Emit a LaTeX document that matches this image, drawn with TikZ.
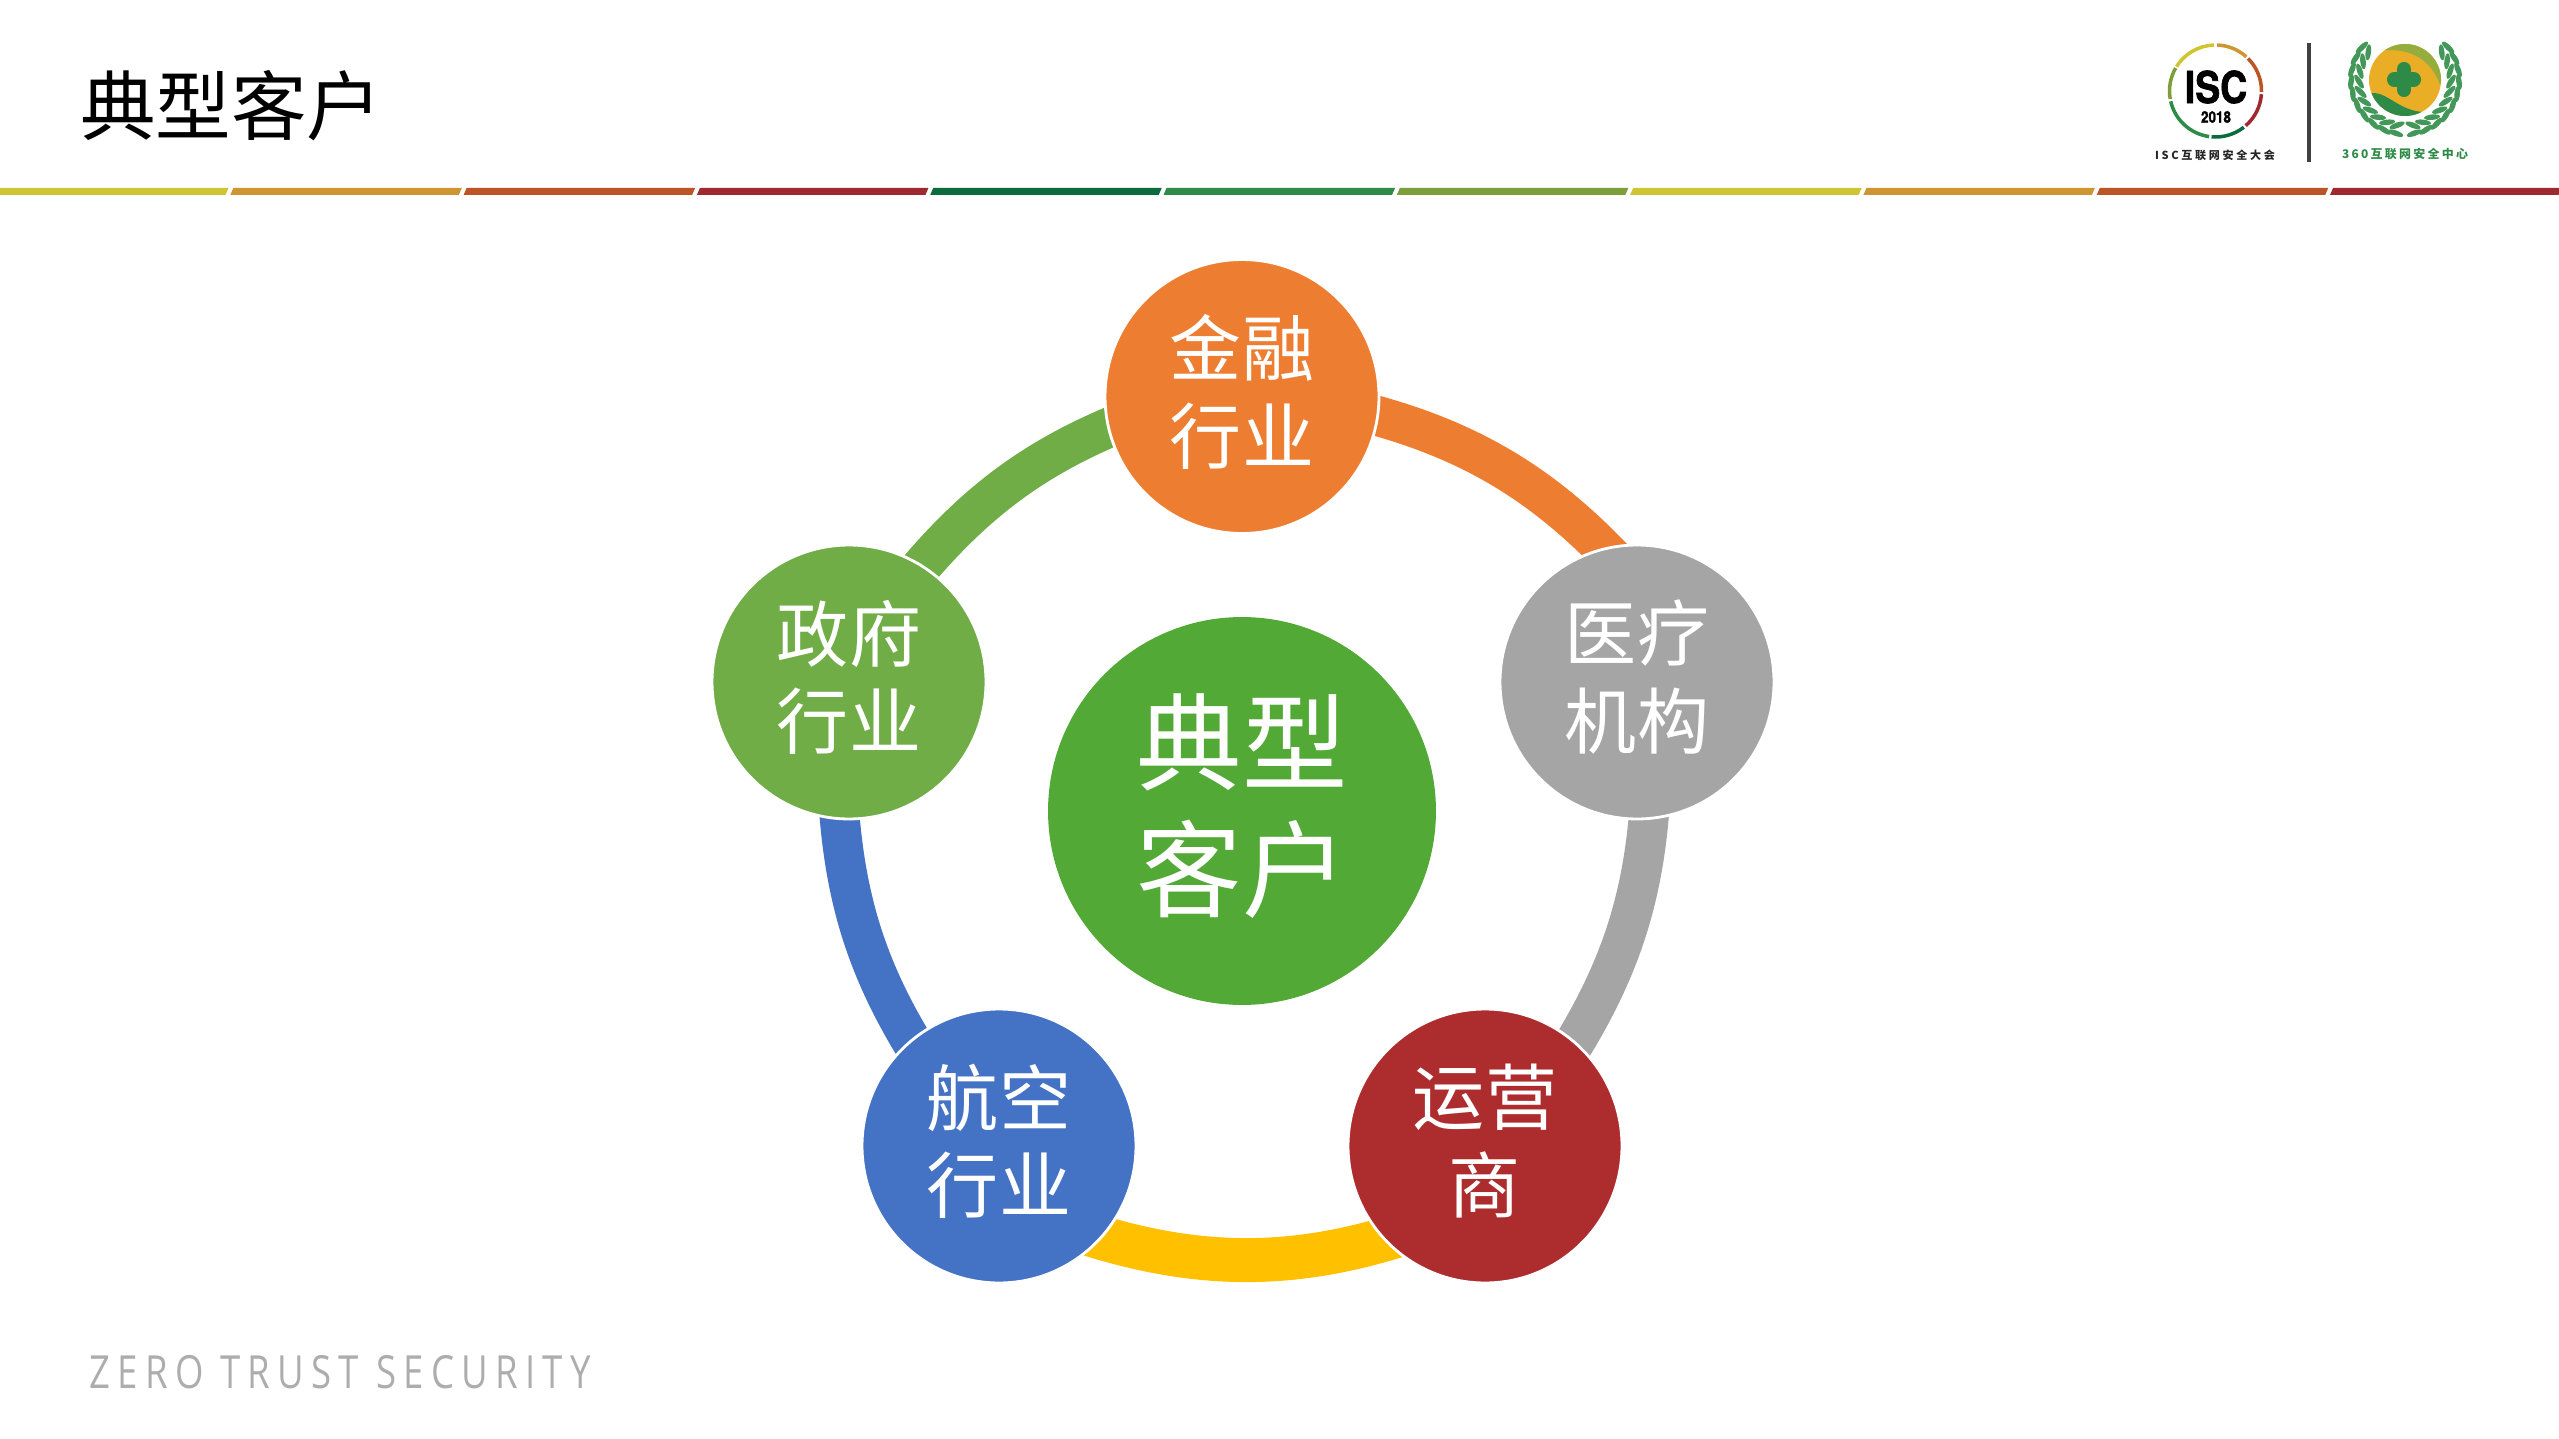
\documentclass[tikz,border=0pt]{standalone}
\usepackage{fontspec}
\setmainfont{Noto Sans CJK SC}
\newfontfamily\logofont[FakeStretch=0.85,BoldFeatures={FakeBold=1.5}]{TeX Gyre Heros}
\newfontfamily\zerofont[LetterSpace=16,FakeStretch=0.8]{Open Sans}
\newfontfamily\iscfont[LetterSpace=24]{Noto Sans CJK SC}
\newfontfamily\guardfont[LetterSpace=19]{Noto Sans CJK SC}
\usetikzlibrary{backgrounds,calc,shapes.geometric}
\definecolor{arcorange}{HTML}{ED7D31}
\definecolor{arcgray}{HTML}{A5A5A5}
\definecolor{arcyellow}{HTML}{FFC000}
\definecolor{arcblue}{HTML}{4472C4}
\definecolor{arcgreen}{HTML}{70AD47}
\definecolor{nodered}{HTML}{AD2D2F}
\definecolor{hubgreen}{HTML}{52A935}
\definecolor{barlime}{HTML}{CFC533}
\definecolor{baramber}{HTML}{CE9533}
\definecolor{barrust}{HTML}{BC5426}
\definecolor{barwine}{HTML}{9E2A2F}
\definecolor{barpine}{HTML}{0B6B3C}
\definecolor{barleaf}{HTML}{2E8B47}
\definecolor{barolive}{HTML}{7D9E3A}
\definecolor{discgold}{HTML}{E9AE26}
\tikzset{
  sector/.style={circle, draw=white, line width=1.6pt, minimum size=5.48cm, inner sep=0pt,
    text=white, align=center, text depth=8.7pt, font=\fontsize{41}{50}\selectfont},
  hub/.style={circle, minimum size=7.76cm, inner sep=0pt, fill=hubgreen,
    text=white, align=center, text depth=10.6pt, font=\fontsize{60}{72}\selectfont},
  ringarc/.style={line width=0.8cm, looseness=0.87, shorten <=-0.6cm, shorten >=-0.6cm},
  leaf/.style={fill=barleaf!90!white, draw=none, ellipse, minimum width=0.32cm, minimum height=0.11cm, inner sep=0pt}
}
\begin{document}
\begin{tikzpicture}[x=0.02cm, y=0.02cm]
  \useasboundingbox (0,0) rectangle (2559,-1439);
  % title and colour bar
  \node[anchor=west, inner sep=0pt, font=\fontsize{43}{50}\selectfont] (title) at (80,-106) {典型客户};
  \foreach \i/\c in {0/barlime, 1/baramber, 2/barrust, 3/barwine, 4/barpine, 5/barleaf,
      6/barolive, 7/barlime, 8/baramber, 9/barrust, 10/barwine}
    \fill[\c] ({\i*233.3-3},-195) -- ({\i*233.3},-188) -- ({\i*233.3+228.5},-188) -- ({\i*233.3+225.5},-195) -- cycle;
  % footer
  \node[anchor=west, inner sep=0pt, text=black!32, font=\zerofont\fontsize{26}{30}\selectfont] (footer) at (89,-1372) {ZERO TRUST SECURITY};
  % circles
  \node[hub] (hubnode) at (1242,-811) {典型\\客户};
  \node[sector, fill=arcorange] (finance) at (1242,-396.5) {金融\\行业};
  \node[sector, fill=arcgray] (medical) at (1637,-682) {医疗\\机构};
  \node[sector, fill=nodered] (carrier) at (1485,-1146) {运营\\商};
  \node[sector, fill=arcblue] (aviation) at (999,-1146) {航空\\行业};
  \node[sector, fill=arcgreen] (government) at (849,-682) {政府\\行业};
  % the arcs lie under the circles
  \begin{scope}[on background layer]
    \draw[ringarc, arcorange] (finance.-8.6) to[out=-13.5, in=132.5] (medical.104.4);
    \draw[ringarc, arcgray] (medical.-85.8) to[out=-93, in=57] (carrier.49.4);
    \draw[ringarc, arcyellow, line width=0.88cm] (carrier.-137.4) to[out=198.6, in=-18.6] (aviation.-42.6);
    \draw[ringarc, arcblue] (aviation.130.4) to[out=123, in=-87] (government.-94.2);
    \draw[ringarc, arcgreen] (government.58.4) to[out=51, in=201] (finance.193.4);
  \end{scope}
  % ISC logo
  \coordinate (iscmid) at (2215.5,-91);
  \foreach \a/\b/\c in {92/148/barlime, 150/190/barolive, 193/262/barleaf, 265/308/barpine,
      311/356/barwine, 359/405/barrust, 408/448/baramber}
    \draw[\c, line width=2pt] ([shift={(\a:46)}]iscmid) arc (\a:\b:46);
  \node[inner sep=0pt, font=\logofont\bfseries\fontsize{25}{25}\selectfont] (isc) at (2216,-87) {ISC};
  \node[inner sep=0pt, font=\logofont\bfseries\fontsize{9}{9}\selectfont] (year) at (2216,-117) {2018};
  \node[inner sep=0pt, font=\iscfont\bfseries\fontsize{6.3}{7}\selectfont, text=black!85] (isccn) at (2215,-155.5) {ISC互联网安全大会};
  \draw[black!75, line width=2pt] (2309,-43) -- (2309,-162);
  % 360 logo
  \coordinate (guardmid) at (2405,-80);
  \fill[discgold] (guardmid) circle (36);
  \begin{scope}
    \clip (guardmid) circle (36);
    \fill[arcgreen!70!discgold] (2376,-52) .. controls (2395,-47) and (2428,-50) .. (2440,-85) -- (2450,-40) -- (2370,-35) -- cycle;
    \fill[barleaf] (2368,-94) .. controls (2385,-88) and (2398,-112) .. (2425,-112) -- (2425,-125) -- (2365,-125) -- cycle;
  \end{scope}
  \draw[barleaf, line width=8pt, line cap=round] (2404,-69) -- (2404,-90) (2394,-79.5) -- (2414,-79.5);
  \foreach \a in {-80,-67,...,37} {
    \node[leaf, rotate=\a+100] (leafr\a) at ($(guardmid)+(\a:54)$) {};
    \node[leaf, rotate=80-\a] (leafl\a) at ($(guardmid)+(180-\a:54)$) {};
    \node[leaf, rotate=\a+60] (leafs\a) at ($(guardmid)+(\a:46)$) {};
    \node[leaf, rotate=120-\a] (leaft\a) at ($(guardmid)+(180-\a:46)$) {};
  }
  \node[inner sep=0pt, text=barleaf, font=\guardfont\bfseries\fontsize{6.8}{8}\selectfont] (guardcn) at (2405,-154) {360互联网安全中心};
\end{tikzpicture}
\end{document}
